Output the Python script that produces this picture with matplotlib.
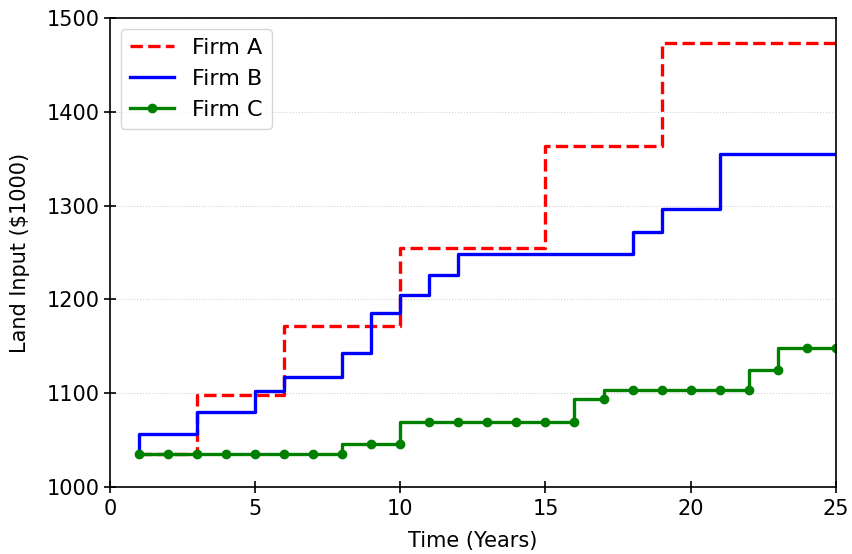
import numpy as np
import matplotlib
matplotlib.use('Agg')
import matplotlib.pyplot as plt

# yearly land input ($1000), one value per year
years = np.arange(1, 26)
firm_a = [1035, 1035, 1035, 1098, 1098, 1098, 1172, 1172, 1172, 1172,
          1255, 1255, 1255, 1255, 1255, 1364, 1364, 1364, 1364,
          1473, 1473, 1473, 1473, 1473, 1473]
firm_b = [1035, 1056, 1056, 1080, 1080, 1102, 1117, 1117, 1143, 1185,
          1205, 1226, 1248, 1248, 1248, 1248, 1248, 1248, 1272,
          1296, 1296, 1355, 1355, 1355, 1355]
firm_c = [1035, 1035, 1035, 1035, 1035, 1035, 1035, 1035, 1046, 1046,
          1069, 1069, 1069, 1069, 1069, 1069, 1094, 1103, 1103,
          1103, 1103, 1103, 1125, 1148, 1148]

plt.rcParams['font.size'] = 15

fig = plt.figure(figsize=(8.52, 5.54), dpi=100)
ax = fig.add_subplot(111)
fig.subplots_adjust(left=0.129, right=0.981, top=0.9675, bottom=0.121)

ax.plot(years, firm_a, 'r--', lw=2.4, drawstyle='steps-pre', label='Firm A')
ax.plot(years, firm_b, 'b-', lw=2.4, drawstyle='steps-pre', label='Firm B')
ax.plot(years, firm_c, 'g-', lw=2.4, marker='o', markersize=6,
        drawstyle='steps-pre', label='Firm C')

ax.set_xlim(0, 25)
ax.set_ylim(1000, 1500)
ax.tick_params(direction='inout', length=8, width=1.2)
ax.tick_params(axis='x', pad=5)
for s in ax.spines.values():
    s.set_linewidth(1.2)
ax.yaxis.grid(True, linestyle=':', color='lightgray')
ax.set_xlabel('Time (Years)', labelpad=8)
ax.set_ylabel('Land Input ($1000)', labelpad=12)
ax.legend(loc=2, fontsize=16)

fig.savefig('out.png', dpi=100)
